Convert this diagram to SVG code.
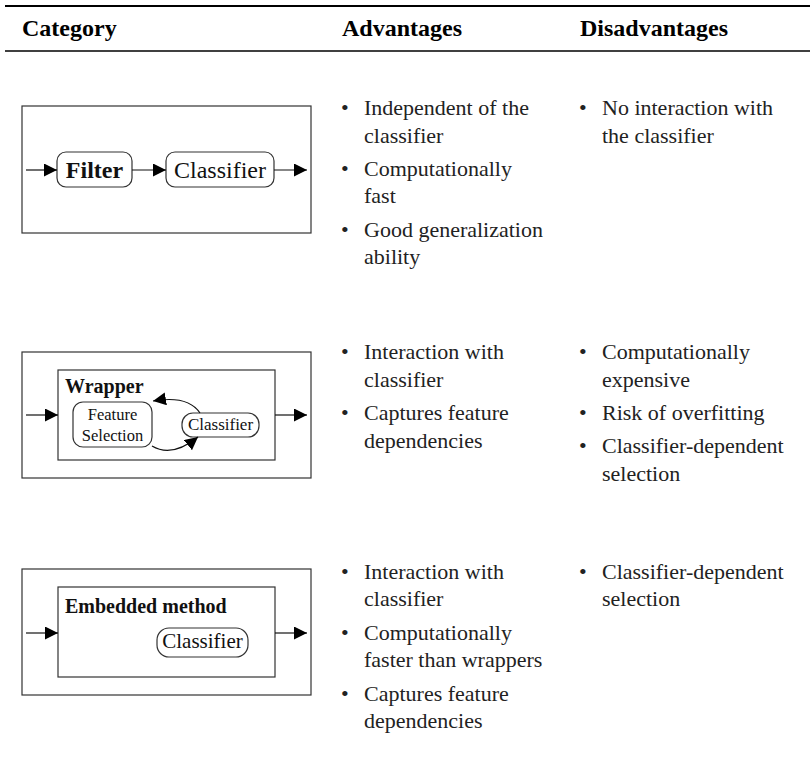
<svg xmlns="http://www.w3.org/2000/svg" width="810" height="769" viewBox="0 0 810 769">
  <style>
    .hdr { font-family: "Liberation Serif", "Times New Roman", serif; font-size: 24px; font-weight: bold; fill: #000; }
    .body { font-family: "Liberation Serif", "Times New Roman", serif; font-size: 22px; fill: #222; }
    .lbl { font-family: "Liberation Serif", "Times New Roman", serif; fill: #111; }
    .frame { fill: none; stroke: #333; stroke-width: 1.2; }
    .node { fill: #fff; stroke: #333; stroke-width: 1.2; }
    .edge { fill: none; stroke: #111; stroke-width: 1.2; marker-end: url(#head); }
  </style>
  <defs>
    <marker id="head" markerUnits="userSpaceOnUse" markerWidth="14" markerHeight="14" refX="13" refY="6.5" orient="auto">
      <path d="M0,0 L13,6.5 L0,13 Z" fill="#000"/>
    </marker>
  </defs>
  <rect width="810" height="769" fill="#fff"/>

  <!-- table rules and headings -->
  <line x1="5" y1="6" x2="810" y2="6" stroke="#000" stroke-width="2.2"/>
  <line x1="5" y1="51" x2="810" y2="51" stroke="#000" stroke-width="1.3"/>
  <text class="hdr" x="22" y="36">Category</text>
  <text class="hdr" x="342" y="36">Advantages</text>
  <text class="hdr" x="580" y="36">Disadvantages</text>

  <!-- row 1: filter -->
  <rect class="frame" x="22" y="106" width="289" height="127"/>
  <g id="filter">
    <rect class="node" x="57" y="152" width="75" height="35" rx="9"/>
    <text class="lbl" x="94.5" y="178" font-size="24" font-weight="bold" text-anchor="middle">Filter</text>
  </g>
  <g id="filter-classifier">
    <rect class="node" x="166" y="152" width="108" height="35" rx="9"/>
    <text class="lbl" x="220" y="178" font-size="24" text-anchor="middle" textLength="92">Classifier</text>
  </g>

  <!-- row 2: wrapper -->
  <rect class="frame" x="22" y="352" width="289" height="126"/>
  <g id="wrapper">
    <rect class="frame" x="58" y="370" width="217" height="90"/>
    <text class="lbl" x="65" y="393" font-size="20" font-weight="bold">Wrapper</text>
  </g>
  <g id="feature-selection">
    <rect class="node" x="73" y="402" width="79" height="45" rx="10"/>
    <text class="lbl" x="112.5" y="420" font-size="16.5" text-anchor="middle">Feature</text>
    <text class="lbl" x="112.5" y="441" font-size="16.5" text-anchor="middle">Selection</text>
  </g>
  <g id="wrapper-classifier">
    <rect class="node" x="182" y="413" width="77" height="24" rx="11"/>
    <text class="lbl" x="220.5" y="430" font-size="17" text-anchor="middle">Classifier</text>
  </g>

  <!-- row 3: embedded method -->
  <rect class="frame" x="22" y="569" width="289" height="126"/>
  <g id="embedded">
    <rect class="frame" x="58" y="587" width="217" height="90"/>
    <text class="lbl" x="65" y="613" font-size="20" font-weight="bold">Embedded method</text>
  </g>
  <g id="embedded-classifier">
    <rect class="node" x="157" y="628" width="91" height="29" rx="12"/>
    <text class="lbl" x="202.5" y="648" font-size="21" text-anchor="middle">Classifier</text>
  </g>

  <!-- connectors -->
  <g id="connectors">
    <line class="edge" x1="26" y1="170" x2="57" y2="170"/>
    <line class="edge" x1="132" y1="170" x2="166" y2="170"/>
    <line class="edge" x1="274" y1="170" x2="307" y2="170"/>

    <line class="edge" x1="26" y1="415" x2="58" y2="415"/>
    <line class="edge" x1="275" y1="415" x2="307" y2="415"/>
    <path class="edge" d="M200,413 Q188,395 153,401"/>
    <path class="edge" d="M152,446 Q172,458 198,437"/>

    <line class="edge" x1="26" y1="633" x2="58" y2="633"/>
    <line class="edge" x1="275" y1="633" x2="307" y2="633"/>
  </g>

  <!-- advantages / disadvantages lists -->
  <g id="row1-text" class="body">
    <text x="341" y="115">•</text><text x="364" y="115">Independent of the</text>
    <text x="364" y="143">classifier</text>
    <text x="341" y="176">•</text><text x="364" y="176">Computationally</text>
    <text x="364" y="203">fast</text>
    <text x="341" y="237">•</text><text x="364" y="237">Good generalization</text>
    <text x="364" y="264">ability</text>

    <text x="579" y="115">•</text><text x="602" y="115">No interaction with</text>
    <text x="602" y="143">the classifier</text>
  </g>
  <g id="row2-text" class="body">
    <text x="341" y="359">•</text><text x="364" y="359">Interaction with</text>
    <text x="364" y="387">classifier</text>
    <text x="341" y="420">•</text><text x="364" y="420">Captures feature</text>
    <text x="364" y="448">dependencies</text>

    <text x="579" y="359">•</text><text x="602" y="359">Computationally</text>
    <text x="602" y="387">expensive</text>
    <text x="579" y="420">•</text><text x="602" y="420">Risk of overfitting</text>
    <text x="579" y="453">•</text><text x="602" y="453">Classifier-dependent</text>
    <text x="602" y="481">selection</text>
  </g>
  <g id="row3-text" class="body">
    <text x="341" y="579">•</text><text x="364" y="579">Interaction with</text>
    <text x="364" y="606">classifier</text>
    <text x="341" y="640">•</text><text x="364" y="640">Computationally</text>
    <text x="364" y="667">faster than wrappers</text>
    <text x="341" y="701">•</text><text x="364" y="701">Captures feature</text>
    <text x="364" y="728">dependencies</text>

    <text x="579" y="579">•</text><text x="602" y="579">Classifier-dependent</text>
    <text x="602" y="606">selection</text>
  </g>
</svg>
